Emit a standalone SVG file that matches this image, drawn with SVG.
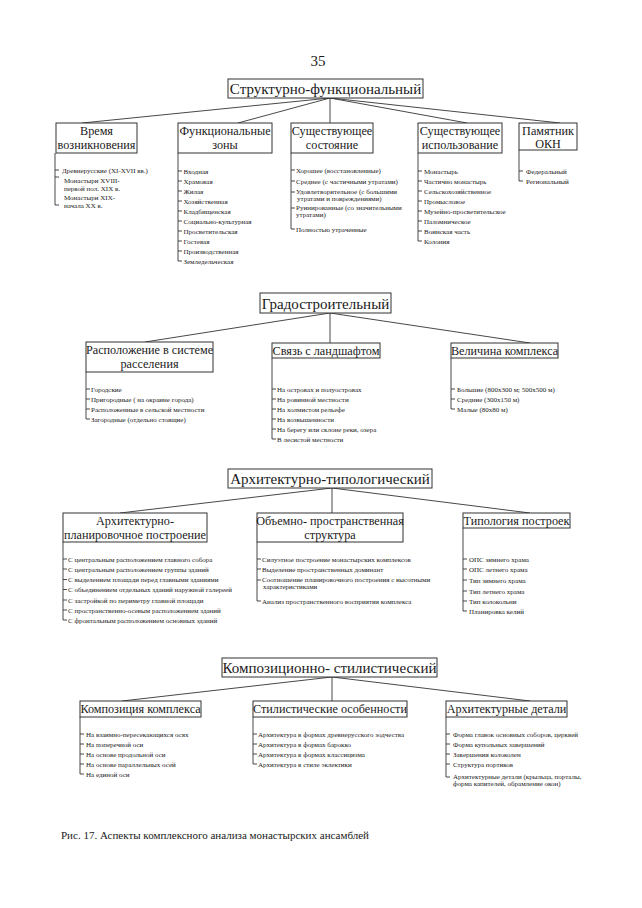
<svg xmlns="http://www.w3.org/2000/svg" width="642" height="908" viewBox="0 0 642 908">
<style>
text{font-family:"Liberation Serif","Times New Roman",serif;fill:#1a1a1a}
.t1{font-size:15px;text-anchor:middle}
.t2{font-size:12.2px;text-anchor:middle}
.it{font-size:7px}
.box{fill:#fff;stroke:#333;stroke-width:1}
.ln{fill:none;stroke:#333;stroke-width:0.9}
.cap{font-size:11px}
</style>
<rect width="642" height="908" fill="#fff"/>
<text x="318" y="66" style="font-size:15px;text-anchor:middle">35</text>

<g id="connectors">
<path class="ln" d="M330,98 L82,123 M330,98 L238,123 M330,98 V123 M330,98 L467,123 M330,98 L560,123"/>
<path class="ln" d="M330,313 L145,342 M330,313 V343 M330,313 L530,343"/>
<path class="ln" d="M332,488 L120,513 M332,488 V513 M332,488 L530,513"/>
<path class="ln" d="M332,677 L122,701 M332,677 V701 M332,677 L530,701"/>
</g>

<!-- Section 1 -->
<g id="struct">
<rect class="box" x="228" y="79" width="195" height="19"/>
<text class="t1" x="325.5" y="94">Структурно-функциональный</text>
</g>
<g id="vremya">
<rect class="box" x="56" y="123" width="81" height="30"/>
<text class="t2" x="96.5" y="135">Время</text>
<text class="t2" x="96.5" y="149">возникновения</text>
<path class="ln" d="M55,153 V205 H59 M55,170 h4 M55,177 h4"/>
<text class="it" x="62" y="172.5">Древнерусские (XI-XVII вв.)</text>
<text class="it" x="64" y="183">Монастыри XVIII-</text>
<text class="it" x="64" y="190.5">первой пол. XIX   в.</text>
<text class="it" x="64" y="200">Монастыри XIX-</text>
<text class="it" x="64" y="207.5">начала XX   в.</text>
</g>
<g id="funkc">
<rect class="box" x="178" y="123" width="94" height="30"/>
<text class="t2" x="225" y="135">Функциональные</text>
<text class="t2" x="225" y="149">зоны</text>
<path class="ln" d="M178,153 V261 H182 M178,171 h4 M178,181 h4 M178,191 h4 M178,201 h4 M178,211 h4 M178,221 h4 M178,231 h4 M178,241 h4 M178,251 h4"/>
<text class="it" x="183.5" y="173.5">Входная</text>
<text class="it" x="183.5" y="183.5">Храмовая</text>
<text class="it" x="183.5" y="193.5">Жилая</text>
<text class="it" x="183.5" y="203.5">Хозяйственная</text>
<text class="it" x="183.5" y="213.5">Кладбищенская</text>
<text class="it" x="183.5" y="223.5">Социально-культурная</text>
<text class="it" x="183.5" y="233.5">Просветительская</text>
<text class="it" x="183.5" y="243.5">Гостевая</text>
<text class="it" x="183.5" y="253.5">Производственная</text>
<text class="it" x="183.5" y="263.5">Земледельческая</text>
</g>
<g id="sost">
<rect class="box" x="291" y="123" width="82" height="30"/>
<text class="t2" x="332" y="135">Существующее</text>
<text class="t2" x="332" y="149">состояние</text>
<path class="ln" d="M291,153 V229 H295 M291,170 h4 M291,181 h4 M291,192 h4 M291,208 h4"/>
<text class="it" x="296" y="172.5">Хорошее (восстановленные)</text>
<text class="it" x="296" y="183.5">Среднее (с частичными утратами)</text>
<text class="it" x="296" y="194">Удовлетворительное (с большими</text>
<text class="it" x="297" y="200.5">утратами и повреждениями)</text>
<text class="it" x="296" y="210">Руинированные (со значительными</text>
<text class="it" x="296" y="216.5">утратами)</text>
<text class="it" x="296" y="231.5">Полностью утраченные</text>
</g>
<g id="isp">
<rect class="box" x="418" y="123" width="84" height="30"/>
<text class="t2" x="460" y="135">Существующее</text>
<text class="t2" x="460" y="149">использование</text>
<path class="ln" d="M418,153 V241 H422 M418,171 h4 M418,181 h4 M418,191 h4 M418,201 h4 M418,211 h4 M418,221 h4 M418,231 h4"/>
<text class="it" x="424" y="173.5">Монастырь</text>
<text class="it" x="424" y="183.5">Частично монастырь</text>
<text class="it" x="424" y="193.5">Сельскохозяйственное</text>
<text class="it" x="424" y="203.5">Промысловое</text>
<text class="it" x="424" y="213.5">Музейно-просветительское</text>
<text class="it" x="424" y="223.5">Паломническое</text>
<text class="it" x="424" y="233.5">Воинская часть</text>
<text class="it" x="424" y="243.5">Колония</text>
</g>
<g id="okn">
<rect class="box" x="519" y="123" width="58" height="27"/>
<text class="t2" x="548" y="134.5">Памятник</text>
<text class="t2" x="548" y="147.5">ОКН</text>
<path class="ln" d="M519,150 V181 H523 M519,171 h4"/>
<text class="it" x="526" y="173.5">Федеральный</text>
<text class="it" x="526" y="183.5">Региональный</text>
</g>

<!-- Section 2 -->
<g id="grad">
<rect class="box" x="260" y="293" width="131" height="20"/>
<text class="t1" x="325.5" y="308.5">Градостроительный</text>
</g>
<g id="raspol">
<rect class="box" x="86" y="342" width="127" height="30"/>
<text class="t2" x="149.5" y="354">Расположение в системе</text>
<text class="t2" x="149.5" y="368">расселения</text>
<path class="ln" d="M86,372 V419 H90 M86,389 h4 M86,399 h4 M86,409 h4"/>
<text class="it" x="91" y="391.5">Городские</text>
<text class="it" x="91" y="401.5">Пригородные ( на окраине города)</text>
<text class="it" x="91" y="411.5">Расположенные в сельской местности</text>
<text class="it" x="91" y="421.5">Загородные (отдельно стоящие)</text>
</g>
<g id="landsh">
<rect class="box" x="272" y="343" width="108" height="15"/>
<text class="t2" x="326" y="355">Связь с ландшафтом</text>
<path class="ln" d="M272,358 V439 H276 M272,389 h4 M272,399 h4 M272,409 h4 M272,419 h4 M272,429 h4"/>
<text class="it" x="277" y="391.5">На островах и полуостровах</text>
<text class="it" x="277" y="401.5">На ровинной местности</text>
<text class="it" x="277" y="411.5">На холмистом рельефе</text>
<text class="it" x="277" y="421.5">На возвышенности</text>
<text class="it" x="277" y="431.5">На берегу или склоне реки, озера</text>
<text class="it" x="277" y="441.5">В лесистой местности</text>
</g>
<g id="velich">
<rect class="box" x="451" y="343" width="107" height="15"/>
<text class="t2" x="504.5" y="355">Величина комплекса</text>
<path class="ln" d="M451,358 V409 H455 M451,389 h4 M451,399 h4"/>
<text class="it" x="457" y="391.5">Большие (800x300 м; 500x500 м)</text>
<text class="it" x="457" y="401.5">Средние (300x150 м)</text>
<text class="it" x="457" y="411.5">Малые (80x80 м)</text>
</g>

<!-- Section 3 -->
<g id="arhtip">
<rect class="box" x="228" y="469" width="204" height="19"/>
<text class="t1" x="330" y="484">Архитектурно-типологический</text>
</g>
<g id="arhplan">
<rect class="box" x="63" y="513" width="144" height="29"/>
<text class="t2" x="135" y="525">Архитектурно-</text>
<text class="t2" x="135" y="539">планировочное построение</text>
<path class="ln" d="M63,542 V620 H67 M63,559 h4 M63,569 h4 M63,579.5 h4 M63,589.5 h4 M63,600 h4 M63,610 h4"/>
<text class="it" x="68" y="561.5">С центральным расположением главного собора</text>
<text class="it" x="68" y="571.5">С центральным расположением группы зданий</text>
<text class="it" x="68" y="582">С выделением площади перед главными зданиями</text>
<text class="it" x="68" y="592">С объединением отдельных зданий наружной галереей</text>
<text class="it" x="68" y="602.5">С застройкой по периметру главной площади</text>
<text class="it" x="68" y="612.5">С пространственно-осевым расположением зданий</text>
<text class="it" x="68" y="622.5">С фронтальным расположением основных зданий</text>
</g>
<g id="obem">
<rect class="box" x="257" y="513" width="146" height="29"/>
<text class="t2" x="330" y="525">Объемно- пространственная</text>
<text class="t2" x="330" y="539">структура</text>
<path class="ln" d="M257,542 V601 H261 M257,559 h4 M257,569 h4 M257,580 h4"/>
<text class="it" x="262" y="561.5">Силуэтное построение монастырских комплексов</text>
<text class="it" x="262" y="571.5">Выделение пространственных доминант</text>
<text class="it" x="262" y="582">Соотношение планировочного построения с высотными</text>
<text class="it" x="263" y="588.5">характеристиками</text>
<text class="it" x="262" y="603.5">Анализ пространственного восприятия комплекса</text>
</g>
<g id="tipol">
<rect class="box" x="463" y="513" width="107" height="15"/>
<text class="t2" x="516.5" y="525">Типология построек</text>
<path class="ln" d="M463,528 V611 H467 M463,559 h4 M463,569 h4 M463,580 h4 M463,591 h4 M463,601 h4"/>
<text class="it" x="469" y="561.5">ОПС зимнего храма</text>
<text class="it" x="469" y="571.5">ОПС летнего храма</text>
<text class="it" x="469" y="582.5">Тип зимнего храма</text>
<text class="it" x="469" y="593.5">Тип летнего храма</text>
<text class="it" x="469" y="603.5">Тип колокольни</text>
<text class="it" x="469" y="613.5">Планировка келий</text>
</g>

<!-- Section 4 -->
<g id="kompstil">
<rect class="box" x="222" y="658" width="215" height="19"/>
<text class="t1" x="329.5" y="673">Композиционно- стилистический</text>
</g>
<g id="kompoz">
<rect class="box" x="80" y="701" width="121" height="16"/>
<text class="t2" x="140.5" y="713">Композиция комплекса</text>
<path class="ln" d="M80,717 V774 H84 M80,734 h4 M80,744 h4 M80,754 h4 M80,764 h4"/>
<text class="it" x="86" y="736.5">На взаимно-пересекающихся осях</text>
<text class="it" x="86" y="746.5">На поперечной оси</text>
<text class="it" x="86" y="756.5">На основе продольной оси</text>
<text class="it" x="86" y="766.5">На основе параллельных осей</text>
<text class="it" x="86" y="776.5">На единой оси</text>
</g>
<g id="stil">
<rect class="box" x="253" y="701" width="154" height="16"/>
<text class="t2" x="330" y="713">Стилистические особенности</text>
<path class="ln" d="M253,717 V764 H257 M253,734 h4 M253,744 h4 M253,754 h4"/>
<text class="it" x="258" y="736.5">Архитектура в формах древнерусского зодчества</text>
<text class="it" x="258" y="746.5">Архитектура в формах барокко</text>
<text class="it" x="258" y="756.5">Архитектура в формах классицизма</text>
<text class="it" x="258" y="766.5">Архитектура в стиле эклектики</text>
</g>
<g id="detali">
<rect class="box" x="446" y="701" width="121" height="16"/>
<text class="t2" x="506.5" y="713">Архитектурные детали</text>
<path class="ln" d="M446,717 V777 H450 M446,734 h4 M446,744 h4 M446,754 h4 M446,764 h4"/>
<text class="it" x="453" y="736.5">Форма главок основных соборов, церквей</text>
<text class="it" x="453" y="746.5">Форма купольных завершений</text>
<text class="it" x="453" y="756.5">Завершения колоколен</text>
<text class="it" x="453" y="766.5">Структура портиков</text>
<text class="it" x="453" y="779">Архитектурные детали (крыльца, порталы,</text>
<text class="it" x="453" y="785.5">форма капителей, обрамление окон)</text>
</g>

<text class="cap" x="61" y="839">Рис. 17. Аспекты комплексного анализа монастырских ансамблей</text>
</svg>
